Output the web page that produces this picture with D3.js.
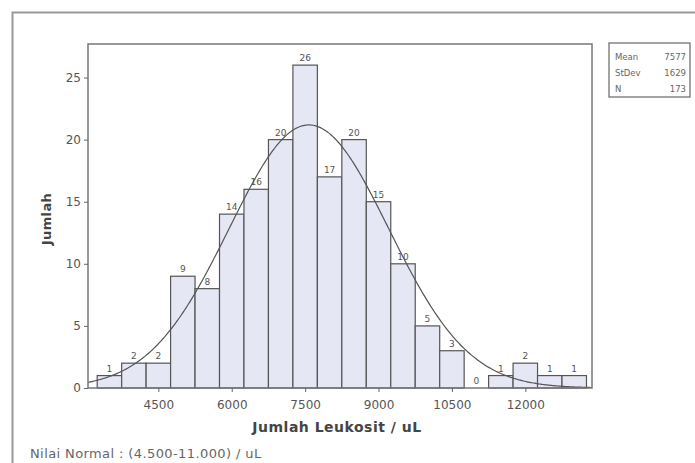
<!DOCTYPE html>
<html>
<head>
<meta charset="utf-8">
<script src="https://cdn.jsdelivr.net/npm/d3@7"></script>
<style>
  body { margin: 0; background: #fff; }
  svg { display: block; font-family: "DejaVu Sans", sans-serif; }
</style>
</head>
<body>
<svg id="chart" width="695" height="463"></svg>
<script>
// histogram bins (centre of each bin) and counts
var binCenters = [3500, 4000, 4500, 5000, 5500, 6000, 6500, 7000, 7500, 8000,
                  8500, 9000, 9500, 10000, 10500, 11000, 11500, 12000, 12500, 13000];
var counts = [1, 2, 2, 9, 8, 14, 16, 20, 26, 17, 20, 15, 10, 5, 3, 0, 1, 2, 1, 1];
var binWidth = 500;

var xTicks = [4500, 6000, 7500, 9000, 10500, 12000];
var yTicks = [0, 5, 10, 15, 20, 25];

var statLabels = ["Mean", "StDev", "N"];
var statValues = [7577, 1629, 173];

var xTitle = "Jumlah Leukosit / uL";
var yTitle = "Jumlah";
var footer = "Nilai Normal : (4.500-11.000) / uL";

var svg = d3.select("#chart");

// outer frame (top and left edge visible)
svg.append("path")
    .attr("d", "M12.5,463 V12.5 H695")
    .attr("fill", "none")
    .attr("stroke", "#9a9a9a")
    .attr("stroke-width", 2);

var plot = { left: 88, top: 44, right: 592, bottom: 388 };

var x = d3.scaleLinear().domain([3062, 13363]).range([plot.left, plot.right]);
var y = d3.scaleLinear().domain([0, 27.7]).range([plot.bottom, plot.top]);

// bars
var bins = binCenters.map(function (c, i) { return { c: c, n: counts[i] }; });
svg.append("g").selectAll("rect")
    .data(bins.filter(function (d) { return d.n > 0; }))
    .enter().append("rect")
    .attr("x", function (d) { return x(d.c - binWidth / 2); })
    .attr("y", function (d) { return y(d.n); })
    .attr("width", function (d) { return x(d.c + binWidth / 2) - x(d.c - binWidth / 2); })
    .attr("height", function (d) { return y(0) - y(d.n); })
    .attr("fill", "#e5e7f4")
    .attr("stroke", "#555")
    .attr("stroke-width", 1.2);

// bar labels
svg.append("g").selectAll("text")
    .data(bins)
    .enter().append("text")
    .attr("x", function (d) { return x(d.c); })
    .attr("y", function (d) { return y(d.n) - 4; })
    .attr("text-anchor", "middle")
    .attr("font-size", 9)
    .attr("fill", "#555")
    .text(function (d) { return d.n; });

// fitted normal curve
var mean = statValues[0], sd = statValues[1], n = statValues[2];
var curveX = d3.range(x.domain()[0], x.domain()[1] + 1, 25);
var line = d3.line()
    .x(function (v) { return x(v); })
    .y(function (v) {
        var z = (v - mean) / sd;
        return y(n * binWidth * Math.exp(-0.5 * z * z) / (sd * Math.sqrt(2 * Math.PI)));
    });
svg.append("path")
    .datum(curveX)
    .attr("d", line)
    .attr("fill", "none")
    .attr("stroke", "#555")
    .attr("stroke-width", 1.2);

// plot frame
svg.append("rect")
    .attr("x", plot.left).attr("y", plot.top)
    .attr("width", plot.right - plot.left)
    .attr("height", plot.bottom - plot.top)
    .attr("fill", "none")
    .attr("stroke", "#777")
    .attr("stroke-width", 1.5);

// axes
var xAxis = d3.axisBottom(x).tickValues(xTicks).tickFormat(d3.format("d")).tickSize(4).tickPadding(8);
var gx = svg.append("g").attr("transform", "translate(0," + plot.bottom + ")").call(xAxis);
var yAxis = d3.axisLeft(y).tickValues(yTicks).tickFormat(d3.format("d")).tickSize(4).tickPadding(3);
var gy = svg.append("g").attr("transform", "translate(" + plot.left + ",0)").call(yAxis);
[gx, gy].forEach(function (g) {
    g.select(".domain").remove();
    g.selectAll("line").attr("stroke", "#666");
    g.selectAll("text")
        .attr("font-family", "DejaVu Sans, sans-serif")
        .attr("font-size", 12)
        .attr("fill", "#555");
});

// axis titles
svg.append("text")
    .attr("x", 337)
    .attr("y", 432)
    .attr("text-anchor", "middle")
    .attr("font-size", 14)
    .attr("font-weight", "bold")
    .attr("letter-spacing", 0.5)
    .attr("fill", "#444")
    .text(xTitle);

svg.append("text")
    .attr("transform", "translate(51,219) rotate(-90)")
    .attr("text-anchor", "middle")
    .attr("font-size", 13)
    .attr("font-weight", "bold")
    .attr("letter-spacing", 0.4)
    .attr("fill", "#444")
    .text(yTitle);

// footer note
svg.append("text")
    .attr("x", 30)
    .attr("y", 458)
    .attr("font-size", 13)
    .attr("letter-spacing", 0.4)
    .attr("fill", "#666")
    .text(footer);

// stats box
var box = svg.append("g").attr("transform", "translate(609,43)");
box.append("rect")
    .attr("width", 81).attr("height", 54)
    .attr("fill", "#fff")
    .attr("stroke", "#666")
    .attr("stroke-width", 1.2);
statLabels.forEach(function (lab, i) {
    box.append("text")
        .attr("x", 6).attr("y", 17 + i * 16)
        .attr("font-size", 8.5)
        .attr("fill", "#666")
        .text(lab);
    box.append("text")
        .attr("x", 77).attr("y", 17 + i * 16)
        .attr("text-anchor", "end")
        .attr("font-size", 8.5)
        .attr("fill", "#666")
        .text(statValues[i]);
});
</script>
</body>
</html>
